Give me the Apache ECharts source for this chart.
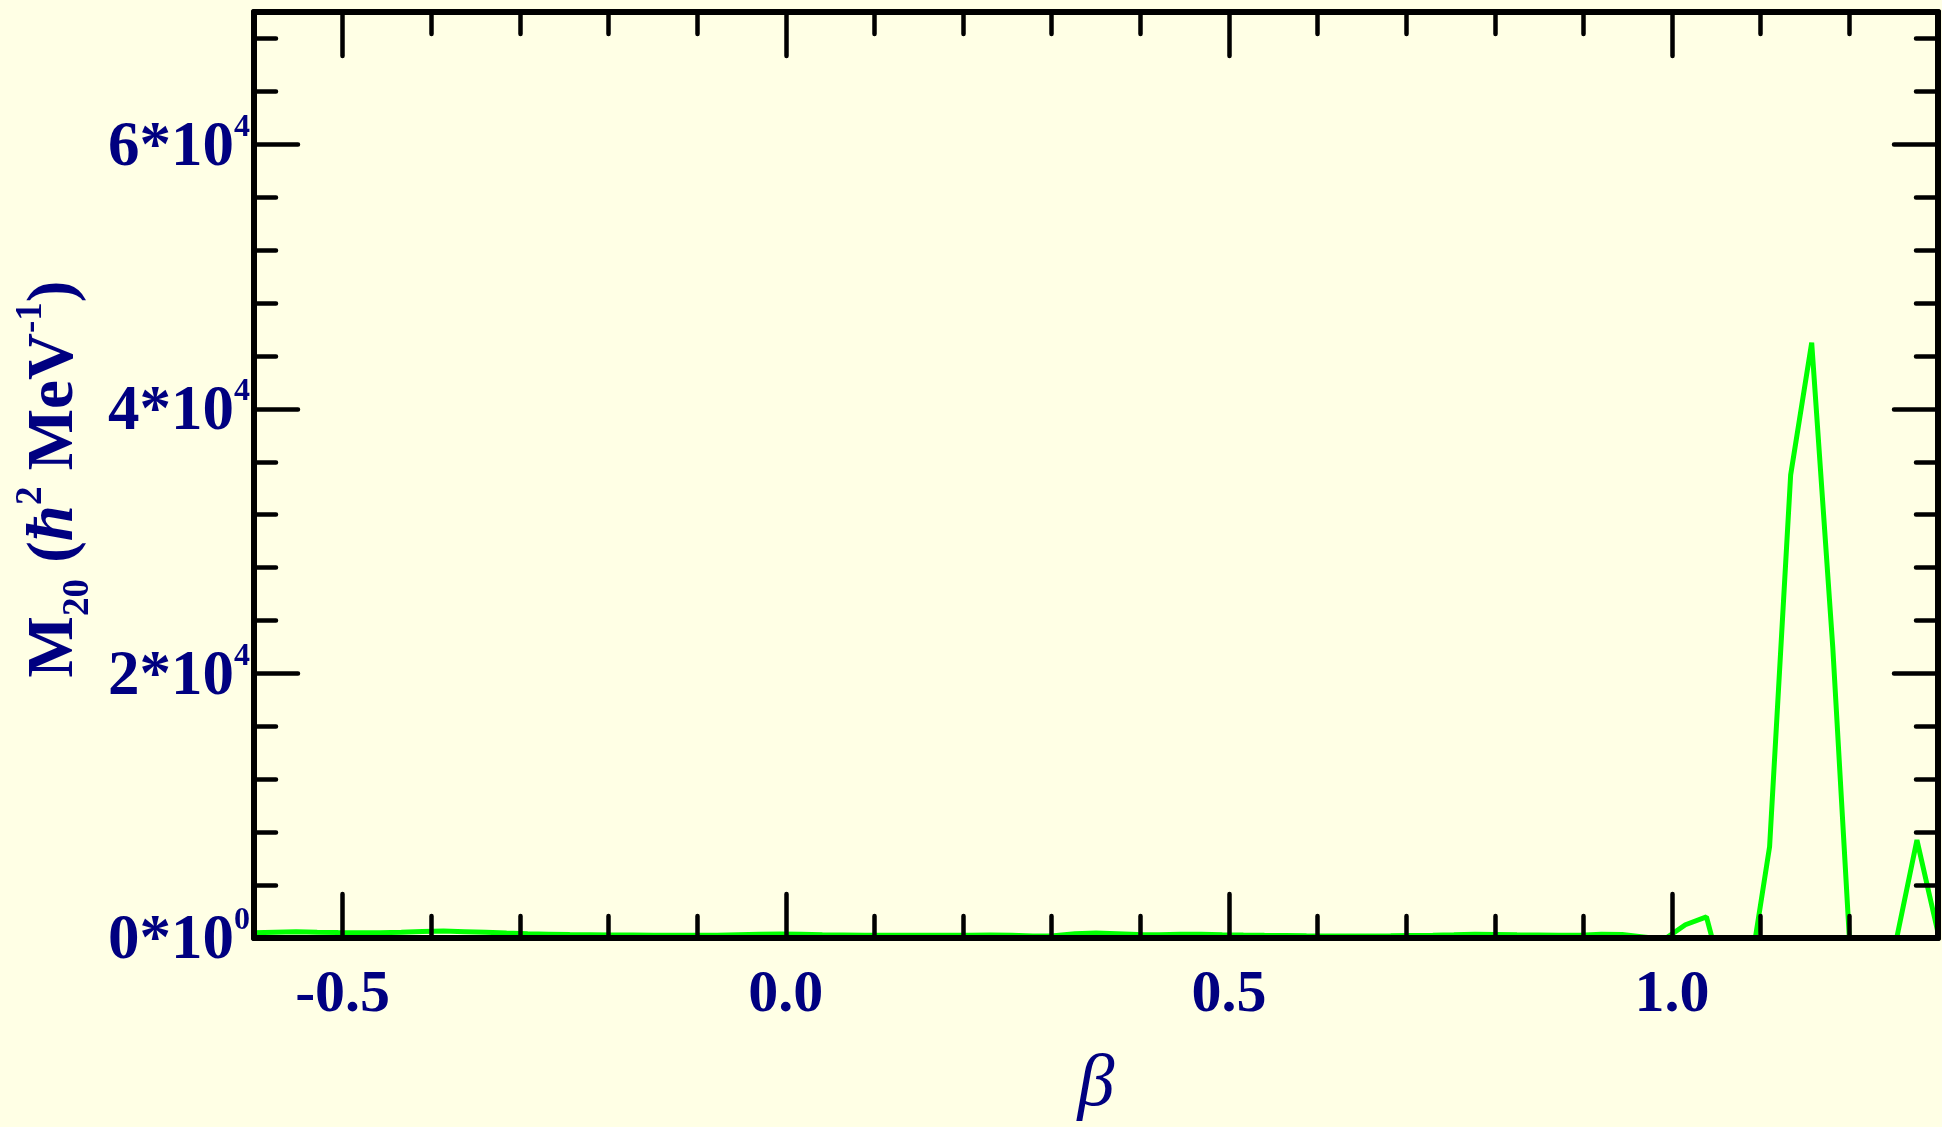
<!DOCTYPE html>
<html><head><meta charset="utf-8">
<script src="https://cdn.jsdelivr.net/npm/echarts@6/dist/echarts.min.js"></script>
<style>html,body{margin:0;padding:0;background:#ffffe5}#c{width:1942px;height:1127px}</style>
</head><body><div id="c"></div>
<script>
// beta (deformation) sample points
const beta = [-0.6, -0.57625, -0.5525, -0.52875, -0.505, -0.48125, -0.4575, -0.43375, -0.41, -0.38625,
  -0.3625, -0.33875, -0.315, -0.29125, -0.2675, -0.24375, -0.22, -0.19625, -0.1725, -0.14875,
  -0.125, -0.10125, -0.0775, -0.05375, -0.03, -0.00625, 0.0175, 0.04125, 0.065, 0.08875,
  0.1125, 0.13625, 0.16, 0.18375, 0.2075, 0.23125, 0.255, 0.27875, 0.3025, 0.32625,
  0.35, 0.37375, 0.3975, 0.42125, 0.445, 0.46875, 0.4925, 0.51625, 0.54, 0.56375,
  0.5875, 0.61125, 0.635, 0.65875, 0.6825, 0.70625, 0.73, 0.75375, 0.7775, 0.80125,
  0.825, 0.84875, 0.8725, 0.89625, 0.92, 0.94375, 0.9675, 0.99125, 1.015, 1.03875,
  1.0625, 1.08625, 1.11, 1.13375, 1.1575, 1.18125, 1.205, 1.22875, 1.2525, 1.27625, 1.3];
// M20 values (hbar^2 MeV^-1); values below 0 are clipped by the axis
const m20 = [400, 440, 480, 440, 410, 400, 400, 430, 500, 530,
  480, 430, 370, 320, 290, 260, 250, 230, 220, 210,
  200, 200, 210, 250, 290, 300, 280, 250, 230, 210,
  200, 200, 200, 200, 210, 225, 200, 160, 170, 330,
  380, 330, 260, 240, 290, 290, 250, 220, 200, 190,
  170, 160, 150, 160, 170, 190, 210, 240, 280, 270,
  240, 220, 200, 210, 280, 260, 80, -100, 1000, 1600,
  -4400, -3300, 6900, 35000, 45000, 22000, -5900, -3000, -300, 7400, 400];
const xMajorTicks = [-0.5, 0.0, 0.5, 1.0];
const yMajorTicks = [0, 20000, 40000, 60000];

const FONT = "'Liberation Serif','Times New Roman',serif";
const NAVY = '#000080';
const gridRect = {left: 254, right: 4, top: 12, bottom: 189, containLabel: false, outerBoundsMode: 'none'};
const tickStyle = {color: '#000', width: 4.5, cap: 'round'};
const lineStyleAxis = {color: '#000', width: 6};

function xMinor(pos) {
  return {gridIndex: 0, type: 'value', position: pos, min: -0.6, max: 1.3, interval: 0.1, z: 5,
    axisLine: {show: true, onZero: false, lineStyle: lineStyleAxis},
    axisTick: {show: true, inside: true, length: 22, lineStyle: tickStyle},
    axisLabel: {show: false}, splitLine: {show: false}};
}
function yMinor(pos) {
  return {gridIndex: 0, type: 'value', position: pos, min: 0, max: 70000, interval: 4000, z: 5,
    axisLine: {show: true, onZero: false, lineStyle: lineStyleAxis},
    axisTick: {show: true, inside: true, length: 22, lineStyle: tickStyle},
    axisLabel: {show: false}, splitLine: {show: false}};
}

const option = {
  backgroundColor: '#ffffe5',
  animation: false,
  grid: [Object.assign({}, gridRect), Object.assign({}, gridRect)],
  xAxis: [
    xMinor('bottom'), xMinor('top'),
    {gridIndex: 1, type: 'value', position: 'bottom', min: -0.6, max: 1.3, z: 5,
      axisLine: {show: false, onZero: false},
      axisTick: {show: true, inside: true, length: 44, customValues: xMajorTicks, lineStyle: tickStyle},
      axisLabel: {show: true, customValues: xMajorTicks, margin: 27,
        formatter: v => Number(v).toFixed(1),
        fontFamily: FONT, fontWeight: 'bold', fontSize: 60, lineHeight: 60, color: NAVY},
      splitLine: {show: false},
      name: 'β', nameLocation: 'middle', nameGap: 111,
      nameTextStyle: {fontFamily: FONT, fontStyle: 'italic', fontSize: 74, lineHeight: 74, color: NAVY}},
    {gridIndex: 1, type: 'value', position: 'top', min: -0.6, max: 1.3, z: 5,
      axisLine: {show: false, onZero: false},
      axisTick: {show: true, inside: true, length: 44, customValues: xMajorTicks, lineStyle: tickStyle},
      axisLabel: {show: false}, splitLine: {show: false}}
  ],
  yAxis: [
    yMinor('left'), yMinor('right'),
    {gridIndex: 1, type: 'value', position: 'left', min: 0, max: 70000, z: 5,
      axisLine: {show: false, onZero: false},
      axisTick: {show: true, inside: true, length: 44, customValues: yMajorTicks, lineStyle: tickStyle},
      axisLabel: {show: true, customValues: yMajorTicks, margin: 4, padding: [8, 0, 0, 0],
        formatter: v => v === 0 ? '{b|0*10}{s|0}' : '{b|' + (v / 10000) + '*10}{s|4}',
        rich: {
          b: {fontFamily: FONT, fontWeight: 'bold', fontSize: 63, lineHeight: 74, color: NAVY},
          s: {fontFamily: FONT, fontWeight: 'bold', fontSize: 32, lineHeight: 32, verticalAlign: 'top', color: NAVY}
        }},
      splitLine: {show: false},
      name: '{m|M}{sub|20}{m| (}{h|ħ}{sup|2}{m| MeV}{sup|-1}{m|)}',
      nameLocation: 'middle', nameRotate: 90, nameGap: 150,
      nameTextStyle: {
        color: NAVY,
        padding: [0, 8, 0, 0],
        rich: {
          m: {fontFamily: FONT, fontWeight: 'bold', fontSize: 65, lineHeight: 84, color: NAVY},
          h: {fontFamily: FONT, fontWeight: 'bold', fontStyle: 'italic', fontSize: 65, lineHeight: 84, color: NAVY},
          sub: {fontFamily: FONT, fontWeight: 'bold', fontSize: 37, lineHeight: 37, verticalAlign: 'bottom', color: NAVY},
          sup: {fontFamily: FONT, fontWeight: 'bold', fontSize: 37, lineHeight: 37, verticalAlign: 'top', color: NAVY}
        }
      }},
    {gridIndex: 1, type: 'value', position: 'right', min: 0, max: 70000, z: 5,
      axisLine: {show: false, onZero: false},
      axisTick: {show: true, inside: true, length: 44, customValues: yMajorTicks, lineStyle: tickStyle},
      axisLabel: {show: false}, splitLine: {show: false}}
  ],
  series: [{
    type: 'line', xAxisIndex: 0, yAxisIndex: 0, z: 2,
    showSymbol: false, symbol: 'none', clip: true,
    lineStyle: {color: '#00ff00', width: 5},
    data: beta.map((b, i) => [b, m20[i]])
  }]
};
const chart = echarts.init(document.getElementById('c'));
chart.setOption(option);
</script></body></html>
